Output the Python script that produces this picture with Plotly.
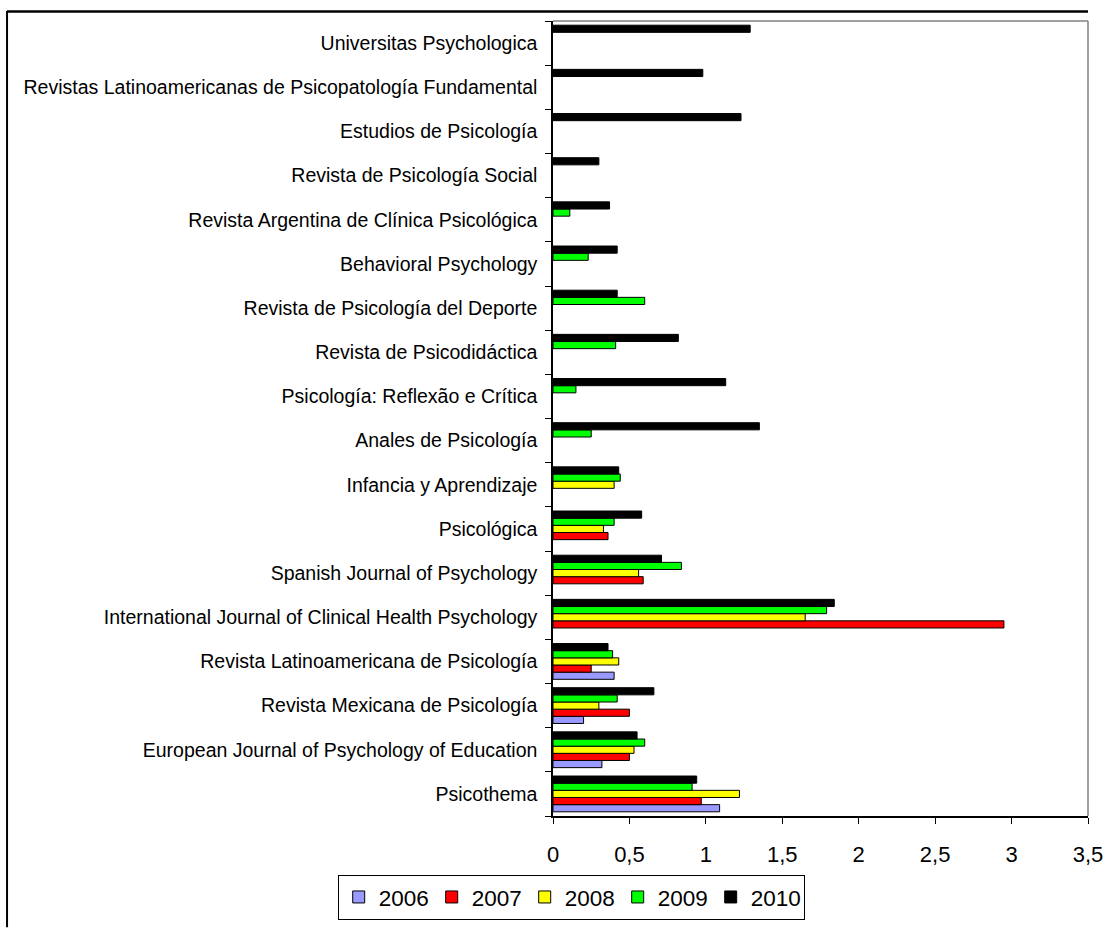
import plotly.graph_objects as go

categories = [
    "Psicothema",
    "European Journal of Psychology of Education",
    "Revista Mexicana de Psicología",
    "Revista Latinoamericana de Psicología",
    "International Journal of Clinical Health Psychology",
    "Spanish Journal of Psychology",
    "Psicológica",
    "Infancia y Aprendizaje",
    "Anales de Psicología",
    "Psicología: Reflexão e Crítica",
    "Revista de Psicodidáctica",
    "Revista de Psicología del Deporte",
    "Behavioral Psychology",
    "Revista Argentina de Clínica Psicológica",
    "Revista de Psicología Social",
    "Estudios de Psicología",
    "Revistas Latinoamericanas de Psicopatología Fundamental",
    "Universitas Psychologica",
]

years = ["2006", "2007", "2008", "2009", "2010"]

v2006 = [1.09, 0.32, 0.20, 0.40, None, None, None, None, None, None, None, None, None, None, None, None, None, None]
v2007 = [0.97, 0.50, 0.50, 0.25, 2.95, 0.59, 0.36, None, None, None, None, None, None, None, None, None, None, None]
v2008 = [1.22, 0.53, 0.30, 0.43, 1.65, 0.56, 0.33, 0.40, None, None, None, None, None, None, None, None, None, None]
v2009 = [0.91, 0.60, 0.42, 0.39, 1.79, 0.84, 0.40, 0.44, 0.25, 0.15, 0.41, 0.60, 0.23, 0.11, None, None, None, None]
v2010 = [0.94, 0.55, 0.66, 0.36, 1.84, 0.71, 0.58, 0.43, 1.35, 1.13, 0.82, 0.42, 0.42, 0.37, 0.30, 1.23, 0.98, 1.29]

series = [v2006, v2007, v2008, v2009, v2010]
colors = ["#9999FF", "#FF0000", "#FFFF00", "#00FF00", "#000000"]

fig = go.Figure()
for name, vals, col in zip(years, series, colors):
    fig.add_trace(go.Bar(
        y=categories, x=vals, name=name, orientation="h",
        marker=dict(color=col, line=dict(color="#000000", width=1)),
    ))

fig.update_layout(
    width=1115, height=932,
    barmode="group", bargap=0.19, bargroupgap=0,
    plot_bgcolor="white", paper_bgcolor="white",
    margin=dict(l=553, r=25, t=21, b=115),
    separators=", ",
    font=dict(family="Liberation Sans, Arial, sans-serif", color="#000000"),
    showlegend=True,
    legend=dict(
        orientation="h", x=0.034, xanchor="center", y=-0.074, yanchor="top",
        bordercolor="#000000", borderwidth=1, font=dict(size=22.5),
        itemwidth=30, traceorder="normal",
        entrywidth=48, entrywidthmode="pixels",
    ),
)

fig.update_xaxes(
    range=[0, 3.5], dtick=0.5, tick0=0, showgrid=False, zeroline=False,
    showline=True, linecolor="#000000", linewidth=1.5,
    ticks="outside", ticklen=6, tickcolor="#000000",
    tickfont=dict(size=22), ticklabelstandoff=12,
)
fig.update_yaxes(
    type="category", categoryorder="array", categoryarray=categories,
    showgrid=False, zeroline=False, showline=True, linecolor="#000000", linewidth=1.5,
    ticks="outside", ticklen=6, tickcolor="#000000", tickson="boundaries",
    tickfont=dict(size=19.5), ticklabelstandoff=10,
)

# plot area border (top and right, gray)
fig.add_shape(type="line", xref="paper", yref="paper", x0=0, x1=1, y0=1, y1=1,
              line=dict(color="#808080", width=1.5))
fig.add_shape(type="line", xref="paper", yref="paper", x0=1, x1=1, y0=0, y1=1,
              line=dict(color="#808080", width=1.5))
# outer chart frame (left and top visible)
fig.add_shape(type="line", xref="paper", yref="paper",
              x0=-1.0205, x1=-1.0205, y0=-0.14, y1=1.0125,
              line=dict(color="#000000", width=2))
fig.add_shape(type="line", xref="paper", yref="paper",
              x0=-1.0205, x1=1.0, y0=1.012, y1=1.012,
              line=dict(color="#000000", width=2.5))

fig.write_html("out.html", post_script="document.body.style.margin='0';",
               config={"displayModeBar": False})
